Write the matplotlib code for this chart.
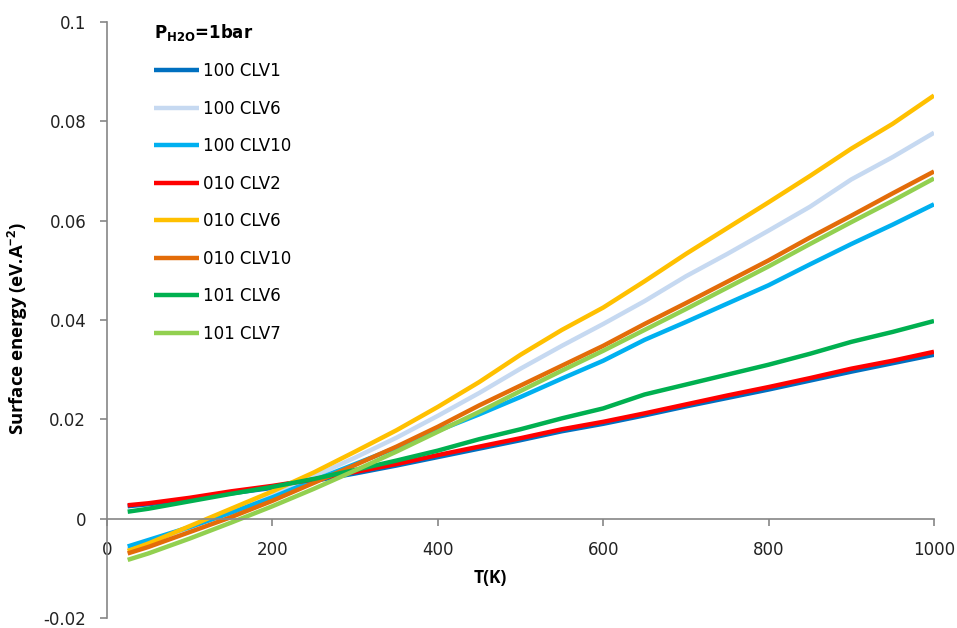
import matplotlib
matplotlib.use("Agg")
import matplotlib.pyplot as plt

plt.rcParams['font.family'] = ['DejaVu Sans']
plt.rcParams['mathtext.fontset'] = 'custom'
plt.rcParams['mathtext.rm'] = 'Open Sans'
plt.rcParams['mathtext.bf'] = 'DejaVu Sans:bold'
plt.rcParams['mathtext.default'] = 'regular'

# temperature (K)
T = [25, 50, 100, 150, 200, 250, 300, 350, 400, 450, 500,
     550, 600, 650, 700, 750, 800, 850, 900, 950, 1000]

# surface energies (eV/A^2)
clv1_100 = [0.0025, 0.0029, 0.0039, 0.0051, 0.0062, 0.0076, 0.0091, 0.0107, 0.0124, 0.0141, 0.0158,
            0.0176, 0.0191, 0.0208, 0.0226, 0.0243, 0.0260, 0.0278, 0.0296, 0.0313, 0.0330]
clv6_100 = [-0.0062, -0.0048, -0.0018, 0.0015, 0.0048, 0.0085, 0.0123, 0.0163, 0.0207, 0.0253, 0.0302,
            0.0348, 0.0392, 0.0438, 0.0488, 0.0533, 0.0580, 0.0628, 0.0683, 0.0728, 0.0777]
clv10_100 = [-0.0056, -0.0043, -0.0017, 0.0012, 0.0043, 0.0077, 0.0110, 0.0143, 0.0177, 0.0210, 0.0245,
             0.0282, 0.0318, 0.0360, 0.0396, 0.0433, 0.0470, 0.0512, 0.0553, 0.0592, 0.0633]
clv2_010 = [0.0027, 0.0031, 0.0042, 0.0055, 0.0066, 0.0079, 0.0094, 0.0110, 0.0128, 0.0145, 0.0162,
            0.0180, 0.0195, 0.0212, 0.0230, 0.0248, 0.0265, 0.0283, 0.0302, 0.0318, 0.0336]
clv6_010 = [-0.0065, -0.0050, -0.0015, 0.0020, 0.0055, 0.0093, 0.0135, 0.0178, 0.0225, 0.0275, 0.0330,
            0.0380, 0.0425, 0.0478, 0.0533, 0.0585, 0.0637, 0.0690, 0.0745, 0.0795, 0.0852]
clv10_010 = [-0.0070, -0.0057, -0.0027, 0.0003, 0.0036, 0.0072, 0.0108, 0.0145, 0.0185, 0.0228, 0.0268,
             0.0308, 0.0348, 0.0392, 0.0434, 0.0477, 0.0520, 0.0566, 0.0610, 0.0655, 0.0699]
clv6_101 = [0.0014, 0.0020, 0.0035, 0.0050, 0.0064, 0.0080, 0.0098, 0.0117, 0.0137, 0.0160, 0.0180,
            0.0202, 0.0222, 0.0250, 0.0270, 0.0290, 0.0310, 0.0332, 0.0356, 0.0376, 0.0398]
clv7_101 = [-0.0083, -0.0070, -0.0040, -0.0008, 0.0025, 0.0060, 0.0097, 0.0135, 0.0175, 0.0215, 0.0257,
            0.0298, 0.0338, 0.0380, 0.0422, 0.0465, 0.0508, 0.0553, 0.0597, 0.0640, 0.0685]

labels = ['100 CLV1', '100 CLV6', '100 CLV10', '010 CLV2', '010 CLV6', '010 CLV10', '101 CLV6', '101 CLV7']
series = [clv1_100, clv6_100, clv10_100, clv2_010, clv6_010, clv10_010, clv6_101, clv7_101]
colors = ['#0070C0', '#C6D9F1', '#00B0F0', '#FF0000', '#FFC000', '#E36C09', '#00B050', '#92D050']

fig = plt.figure(figsize=(9.57, 6.28), dpi=100)
ax = fig.add_axes([107 / 957, 1 - 618 / 628, 827 / 957, 596 / 628])

for y, lab, c in zip(series, labels, colors):
    ax.plot(T, y, color=c, lw=3.2, label=lab, solid_capstyle='butt')

ax.set_xlim(0, 1000)
ax.set_ylim(-0.02, 0.1)
ax.set_xticks([0, 200, 400, 600, 800, 1000])
ax.set_yticks([-0.02, 0, 0.02, 0.04, 0.06, 0.08, 0.1])
ax.set_yticklabels(['-0.02', '0', '0.02', '0.04', '0.06', '0.08', '0.1'])

axis_col = '#868686'
for s in ['top', 'right']:
    ax.spines[s].set_visible(False)
ax.spines['bottom'].set_position(('data', 0))
for s in ['bottom', 'left']:
    ax.spines[s].set_color(axis_col)
    ax.spines[s].set_linewidth(1.2)
ax.tick_params(axis='both', direction='out', length=5, width=1.2, color=axis_col,
               labelsize=12, labelcolor='#222222')
ax.tick_params(axis='x', pad=11)
ax.tick_params(axis='y', pad=10)

# axis titles
ax.text(0.463, 0.067, 'T(K)', transform=ax.transAxes, ha='center', va='center',
        fontsize=12.5, fontweight='bold', family='Open Sans')
ax.text(-0.108, 0.485, r'Surface energy (eV.A$^{-2}$)', transform=ax.transAxes,
        ha='center', va='center', rotation=90, fontsize=13.3, fontweight='bold',
        family='Open Sans')

leg = ax.legend(title=r'P$_{\mathbf{H2O}}$=1bar', loc='upper left',
                bbox_to_anchor=(40 / 827, 1.012), frameon=False, fontsize=12,
                handlelength=2.7, handletextpad=0.25, labelspacing=1.17,
                alignment='left', borderaxespad=0.0)
leg.get_title().set_fontweight('bold')
leg.get_title().set_fontsize(12)

fig.savefig('out.png', dpi=100)
